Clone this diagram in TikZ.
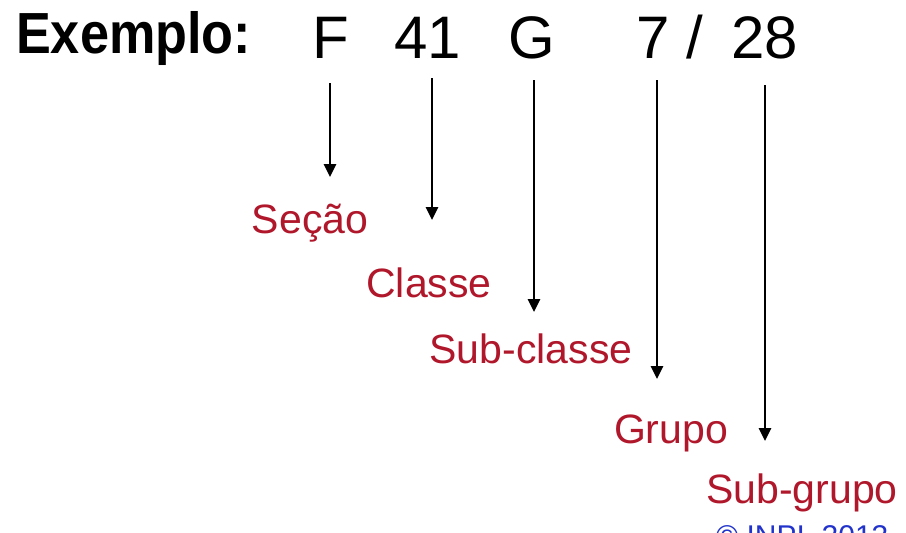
\documentclass[tikz,border=0pt]{standalone}
\usepackage{fontspec}
\setmainfont{Liberation Sans}
\usetikzlibrary{arrows.meta}
\definecolor{lblred}{HTML}{B0172B}
\definecolor{cpblue}{HTML}{2233CC}
\tikzset{
  code/.style={inner sep=0pt, anchor=base, font=\fontsize{60}{60}\selectfont},
  lbl/.style={inner sep=0pt, anchor=base, text=lblred, font=\fontsize{41}{41}\selectfont},
  arr/.style={line width=2.9pt, -{Triangle[width=12pt,length=13pt]}}
}
\begin{document}
\begin{tikzpicture}[x=1pt,y=-1pt]
\clip (0,0) rectangle (906,533);
\fill[white] (0,0) rectangle (906,533);
% title
\node[inner sep=0pt, anchor=base west, xscale=0.9, transform shape,
      font=\bfseries\fontsize{58}{58}\selectfont] (ex) at (16,53) {Exemplo:};
% code parts
\node[code] (F) at (331,58) {F};
\node[code] (n41) at (428,58) {41};
\node[code] (G) at (532,58) {G};
\node[code] (n7) at (653,58) {7};
\node[code] (sl) at (695,58) {/};
\node[code] (n28) at (765,58) {28};
% labels
\node[lbl] (sec) at (310,233) {Seção};
\node[lbl] (cla) at (429,297) {Classe};
\node[lbl] (sub) at (531,363) {Sub-classe};
\node[lbl] (gru) at (671,443) {Grupo};
\node[lbl] (sgr) at (802,503) {Sub-grupo};
% copyright (cut by the frame, as in the reference)
\node[inner sep=0pt, anchor=north west, text=cpblue, font=\fontsize{30}{30}\selectfont] (cp) at (716,525) {© INPI, 2013.};
% arrow ends
\coordinate (sF) at (330,83);   \coordinate (eF) at (330,177);
\coordinate (s41) at (432,78);  \coordinate (e41) at (432,220);
\coordinate (sG) at (534,80);   \coordinate (eG) at (534,312);
\coordinate (s7) at (657,80);   \coordinate (e7) at (657,379);
\coordinate (s28) at (765,85);  \coordinate (e28) at (765,441);
\draw[arr] (sF) -- (eF);
\draw[arr] (s41) -- (e41);
\draw[arr] (sG) -- (eG);
\draw[arr] (s7) -- (e7);
\draw[arr] (s28) -- (e28);
\end{tikzpicture}
\end{document}
